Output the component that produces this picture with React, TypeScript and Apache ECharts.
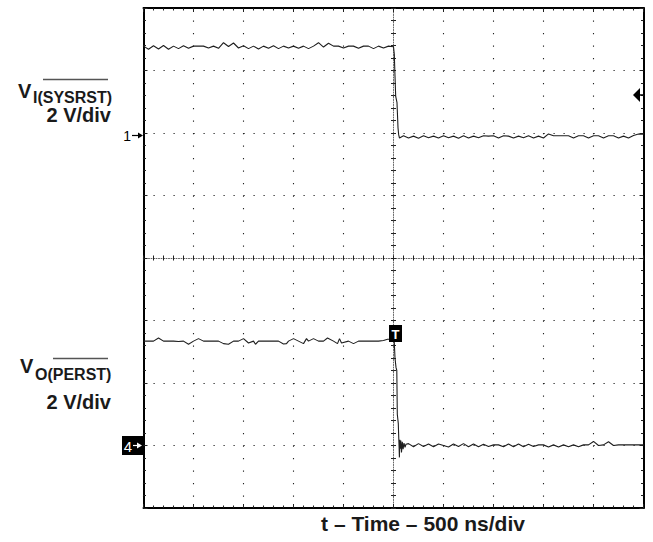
import React, { useEffect, useRef } from "react";
import * as echarts from "echarts";

// Oscilloscope settings
const TIME_MIN_NS = -2500;
const TIME_MAX_NS = 2500;
const NS_PER_DIV = 500;
const V_PER_DIV = 2;
const CH1_GROUND_DIV = 1.96;
const CH4_GROUND_DIV = -3.0;

const X_TITLE = "t – Time – 500 ns/div";
const CH1_NAME = "V";
const CH1_SUB = "I(SYSRST)";
const CH4_NAME = "V";
const CH4_SUB = "O(PERST)";
const SCALE_LABEL = "2 V/div";

// Channel 1: V_I(SYSRST) [time ns, volts]
const ch1Trace: [number, number][] = [
  [-2500, 2.86], [-2450, 2.76], [-2400, 2.87], [-2350, 2.77], [-2300, 2.88], [-2250, 2.76],
  [-2200, 2.86], [-2150, 2.78], [-2100, 2.87], [-2050, 2.79], [-2000, 2.86], [-1950, 2.86],
  [-1900, 2.86], [-1850, 2.8], [-1800, 2.86], [-1750, 2.79], [-1700, 2.97], [-1650, 2.85],
  [-1600, 2.96], [-1550, 2.8], [-1500, 2.87], [-1450, 2.78], [-1400, 2.86], [-1350, 2.77],
  [-1300, 2.86], [-1250, 2.79], [-1200, 2.87], [-1150, 2.78], [-1100, 2.86], [-1050, 2.8],
  [-1000, 2.86], [-950, 2.79], [-900, 2.86], [-850, 2.78], [-800, 2.86], [-750, 2.97],
  [-700, 2.83], [-650, 2.95], [-600, 2.86], [-550, 2.86], [-500, 2.8], [-450, 2.86],
  [-400, 2.86], [-350, 2.79], [-300, 2.86], [-250, 2.86], [-200, 2.78], [-150, 2.86],
  [-100, 2.8], [-50, 2.86], [0, 2.84], [8, 2.6], [15, 1.9], [22, 1.25], [35, 1.05],
  [45, 0.25], [52, 0.02], [60, -0.08], [100, -0.01], [150, -0.08], [200, -0.02],
  [250, -0.09], [300, -0.01], [350, -0.07], [400, -0.02], [450, -0.08], [500, -0.01],
  [550, -0.07], [600, -0.02], [650, -0.09], [700, -0.01], [750, -0.08], [800, -0.02],
  [850, -0.07], [900, -0.01], [950, -0.02], [1000, -0.01], [1050, -0.08], [1100, -0.01],
  [1150, -0.02], [1200, -0.08], [1250, -0.02], [1300, -0.07], [1350, -0.01], [1400, -0.08],
  [1450, -0.02], [1500, -0.08], [1550, 0.05], [1600, -0.01], [1650, -0.01], [1700, -0.01],
  [1750, -0.01], [1800, -0.08], [1850, -0.01], [1900, -0.01], [1950, -0.08], [2000, -0.01],
  [2050, -0.01], [2100, -0.08], [2150, -0.01], [2200, -0.01], [2250, -0.08], [2300, -0.02],
  [2350, -0.08], [2400, 0.0], [2450, 0.05], [2500, 0.04],
];

// Channel 4: V_O(PERST) [time ns, volts]
const ch4Trace: [number, number][] = [
  [-2500, 3.34], [-2450, 3.34], [-2400, 3.34], [-2350, 3.44], [-2300, 3.34], [-2250, 3.34],
  [-2200, 3.34], [-2150, 3.33], [-2100, 3.34], [-2050, 3.24], [-2000, 3.34], [-1950, 3.42],
  [-1900, 3.34], [-1850, 3.34], [-1800, 3.34], [-1750, 3.34], [-1700, 3.26], [-1650, 3.24],
  [-1600, 3.34], [-1550, 3.34], [-1500, 3.42], [-1450, 3.28], [-1400, 3.34], [-1380, 3.24],
  [-1350, 3.34], [-1300, 3.34], [-1250, 3.34], [-1200, 3.34], [-1150, 3.34], [-1100, 3.25],
  [-1070, 3.26], [-1050, 3.34], [-1000, 3.42], [-950, 3.34], [-900, 3.26], [-870, 3.42],
  [-850, 3.34], [-800, 3.42], [-750, 3.34], [-700, 3.34], [-660, 3.44], [-600, 3.34],
  [-560, 3.26], [-540, 3.42], [-520, 3.28], [-450, 3.34], [-400, 3.26], [-350, 3.34],
  [-300, 3.34], [-250, 3.34], [-200, 3.34], [-150, 3.34], [-100, 3.36], [-60, 3.4],
  [-20, 3.4], [0, 3.38], [8, 3.3], [15, 2.8], [25, 2.5], [33, 2.4], [38, 1.0], [48, 0.7],
  [52, 0.3], [56, -0.05], [59, -0.38], [63, 0.18], [68, -0.1], [73, 0.16], [80, -0.22],
  [88, 0.12], [96, -0.12], [105, 0.08], [115, -0.06], [125, 0.04], [150, 0.06], [200, -0.04],
  [250, 0.06], [300, -0.03], [350, 0.05], [400, -0.04], [450, 0.05], [500, 0.0], [550, -0.05],
  [600, 0.05], [650, -0.03], [700, 0.06], [750, -0.04], [800, 0.05], [850, -0.04], [900, 0.04],
  [950, -0.03], [1000, 0.02], [1050, 0.02], [1100, -0.04], [1150, 0.05], [1200, -0.04],
  [1250, 0.05], [1300, -0.04], [1350, 0.04], [1400, -0.03], [1450, 0.02], [1500, 0.02],
  [1550, -0.05], [1600, 0.02], [1650, -0.05], [1700, 0.02], [1750, -0.04], [1800, 0.02],
  [1850, -0.04], [1900, 0.02], [1950, 0.02], [2000, 0.13], [2050, 0.0], [2100, 0.02],
  [2150, 0.12], [2200, 0.0], [2250, 0.02], [2300, 0.02], [2350, 0.02], [2400, 0.02],
  [2450, 0.02], [2500, 0.02],
];

const FONT = '"Liberation Sans", Arial, Helvetica, sans-serif';

function toDivisions(trace: [number, number][], groundDiv: number) {
  return trace.map(([t, v]) => [t, groundDiv + v / V_PER_DIV]);
}

function xAxisDef(position: string, offset: number, border: boolean, extra: any = {}) {
  return {
    type: "value",
    min: TIME_MIN_NS,
    max: TIME_MAX_NS,
    interval: NS_PER_DIV,
    position,
    offset,
    axisLine: border
      ? { show: true, onZero: false, lineStyle: { color: "#000", width: 2 } }
      : { show: false, onZero: false },
    axisTick: { show: true, inside: border, length: border ? 4 : 2.5, lineStyle: { color: "#222", width: 1 } },
    minorTick: { show: true, splitNumber: 5, length: 2.5, lineStyle: { color: "#222", width: 1 } },
    axisLabel: { show: false },
    splitLine: { show: false },
    ...extra,
  };
}

function yAxisDef(position: string, offset: number, border: boolean, extra: any = {}) {
  return {
    type: "value",
    min: -4,
    max: 4,
    interval: 1,
    position,
    offset,
    axisLine: border
      ? { show: true, onZero: false, lineStyle: { color: "#000", width: 2 } }
      : { show: false, onZero: false },
    axisTick: { show: true, inside: border, length: border ? 4 : 2.5, lineStyle: { color: "#222", width: 1 } },
    minorTick: { show: true, splitNumber: 5, length: 2.5, lineStyle: { color: "#222", width: 1 } },
    axisLabel: { show: false },
    splitLine: { show: false },
    ...extra,
  };
}

export default function App() {
  const ref = useRef<HTMLDivElement>(null);

  useEffect(() => {
    if (!ref.current) return;
    const chart = echarts.init(ref.current, undefined, { renderer: "svg" });

    const textStyle = (size: number, weight = "bold") => ({
      font: `${weight} ${size}px ${FONT}`,
      fill: "#1a1a1a",
    });

    const option: any = {
      animation: false,
      backgroundColor: "#ffffff",
      grid: { left: 143.5, top: 8, width: 500, height: 500, containLabel: false },
      xAxis: [
        xAxisDef("bottom", 0, true, {
          splitLine: { show: true, lineStyle: { color: "#222", width: 1.1, type: [1.2, 11.3] } },
        }),
        xAxisDef("top", 0, true),
        xAxisDef("bottom", -250, false, {
          axisLine: { show: true, onZero: false, lineStyle: { color: "#666", width: 1, type: [1, 1.5] } },
        }),
        xAxisDef("top", -250, false),
      ],
      yAxis: [
        yAxisDef("left", 0, true, {
          splitLine: { show: true, lineStyle: { color: "#222", width: 1.1, type: [1.2, 8.8] } },
        }),
        yAxisDef("right", 0, true),
        yAxisDef("left", -250, false, {
          axisLine: { show: true, onZero: false, lineStyle: { color: "#666", width: 1, type: [1, 1.5] } },
        }),
        yAxisDef("right", -250, false),
      ],
      series: [
        {
          name: "CH1",
          type: "line",
          xAxisIndex: 0,
          yAxisIndex: 0,
          showSymbol: false,
          symbol: "none",
          data: toDivisions(ch1Trace, CH1_GROUND_DIV),
          lineStyle: { color: "#1e1e1e", width: 1.1 },
          z: 5,
        },
        {
          name: "CH4",
          type: "line",
          xAxisIndex: 0,
          yAxisIndex: 0,
          showSymbol: false,
          symbol: "none",
          data: toDivisions(ch4Trace, CH4_GROUND_DIV),
          lineStyle: { color: "#1e1e1e", width: 1.1 },
          z: 5,
        },
      ],
      graphic: [
        // Channel 1 label
        { type: "text", x: 18, y: 91, style: { ...textStyle(20), text: CH1_NAME, verticalAlign: "middle" } },
        { type: "text", x: 33, y: 97, style: { ...textStyle(16), text: CH1_SUB, verticalAlign: "middle" } },
        { type: "line", shape: { x1: 43, y1: 79.5, x2: 108, y2: 79.5 }, style: { stroke: "#555", lineWidth: 1.3 } },
        { type: "text", x: 111, y: 115, style: { ...textStyle(20), text: SCALE_LABEL, align: "right", verticalAlign: "middle" } },
        // Channel 4 label
        { type: "text", x: 20, y: 366, style: { ...textStyle(20), text: CH4_NAME, verticalAlign: "middle" } },
        { type: "text", x: 35, y: 374, style: { ...textStyle(16), text: CH4_SUB, verticalAlign: "middle" } },
        { type: "line", shape: { x1: 53, y1: 358.5, x2: 108, y2: 358.5 }, style: { stroke: "#555", lineWidth: 1.3 } },
        { type: "text", x: 111, y: 402, style: { ...textStyle(20), text: SCALE_LABEL, align: "right", verticalAlign: "middle" } },
        // X axis title
        { type: "text", x: 423, y: 523, style: { ...textStyle(21), text: X_TITLE, align: "center", verticalAlign: "middle" } },
        // CH1 ground marker "1→"
        { type: "text", x: 131, y: 135.5, style: { font: `14px ${FONT}`, fill: "#000", text: "1", align: "right", verticalAlign: "middle" } },
        { type: "line", shape: { x1: 132, y1: 135.5, x2: 139, y2: 135.5 }, style: { stroke: "#000", lineWidth: 1.2 } },
        { type: "polygon", shape: { points: [[138, 132.5], [143, 135.5], [138, 138.5]] }, style: { fill: "#000" } },
        // CH4 ground marker box "4→"
        { type: "rect", shape: { x: 122, y: 436, width: 21, height: 19 }, style: { fill: "#000" } },
        { type: "text", x: 132, y: 446, style: { font: `15px ${FONT}`, fill: "#fff", text: "4", align: "right", verticalAlign: "middle" } },
        { type: "line", shape: { x1: 133, y1: 445.5, x2: 139, y2: 445.5 }, style: { stroke: "#fff", lineWidth: 1.2 } },
        { type: "polygon", shape: { points: [[137, 442.5], [142, 445.5], [137, 448.5]] }, style: { fill: "#fff" } },
        // Trigger position marker "T"
        { type: "rect", shape: { x: 389, y: 325, width: 13, height: 17 }, style: { fill: "#000" }, z: 10 },
        { type: "text", x: 395.5, y: 334, style: { font: `bold 13px ${FONT}`, fill: "#fff", text: "T", align: "center", verticalAlign: "middle" }, z: 11 },
        // Trigger level marker on right edge
        { type: "polygon", shape: { points: [[633, 95], [640, 88], [640, 102]] }, style: { fill: "#000" }, z: 10 },
        { type: "line", shape: { x1: 640, y1: 95, x2: 643, y2: 95 }, style: { stroke: "#000", lineWidth: 1.5 }, z: 10 },
      ],
    };

    chart.setOption(option);
    return () => chart.dispose();
  }, []);

  return (
    <div
      ref={ref}
      style={{ position: "absolute", left: 0, top: 0, width: 653, height: 542, background: "#fff" }}
    />
  );
}
